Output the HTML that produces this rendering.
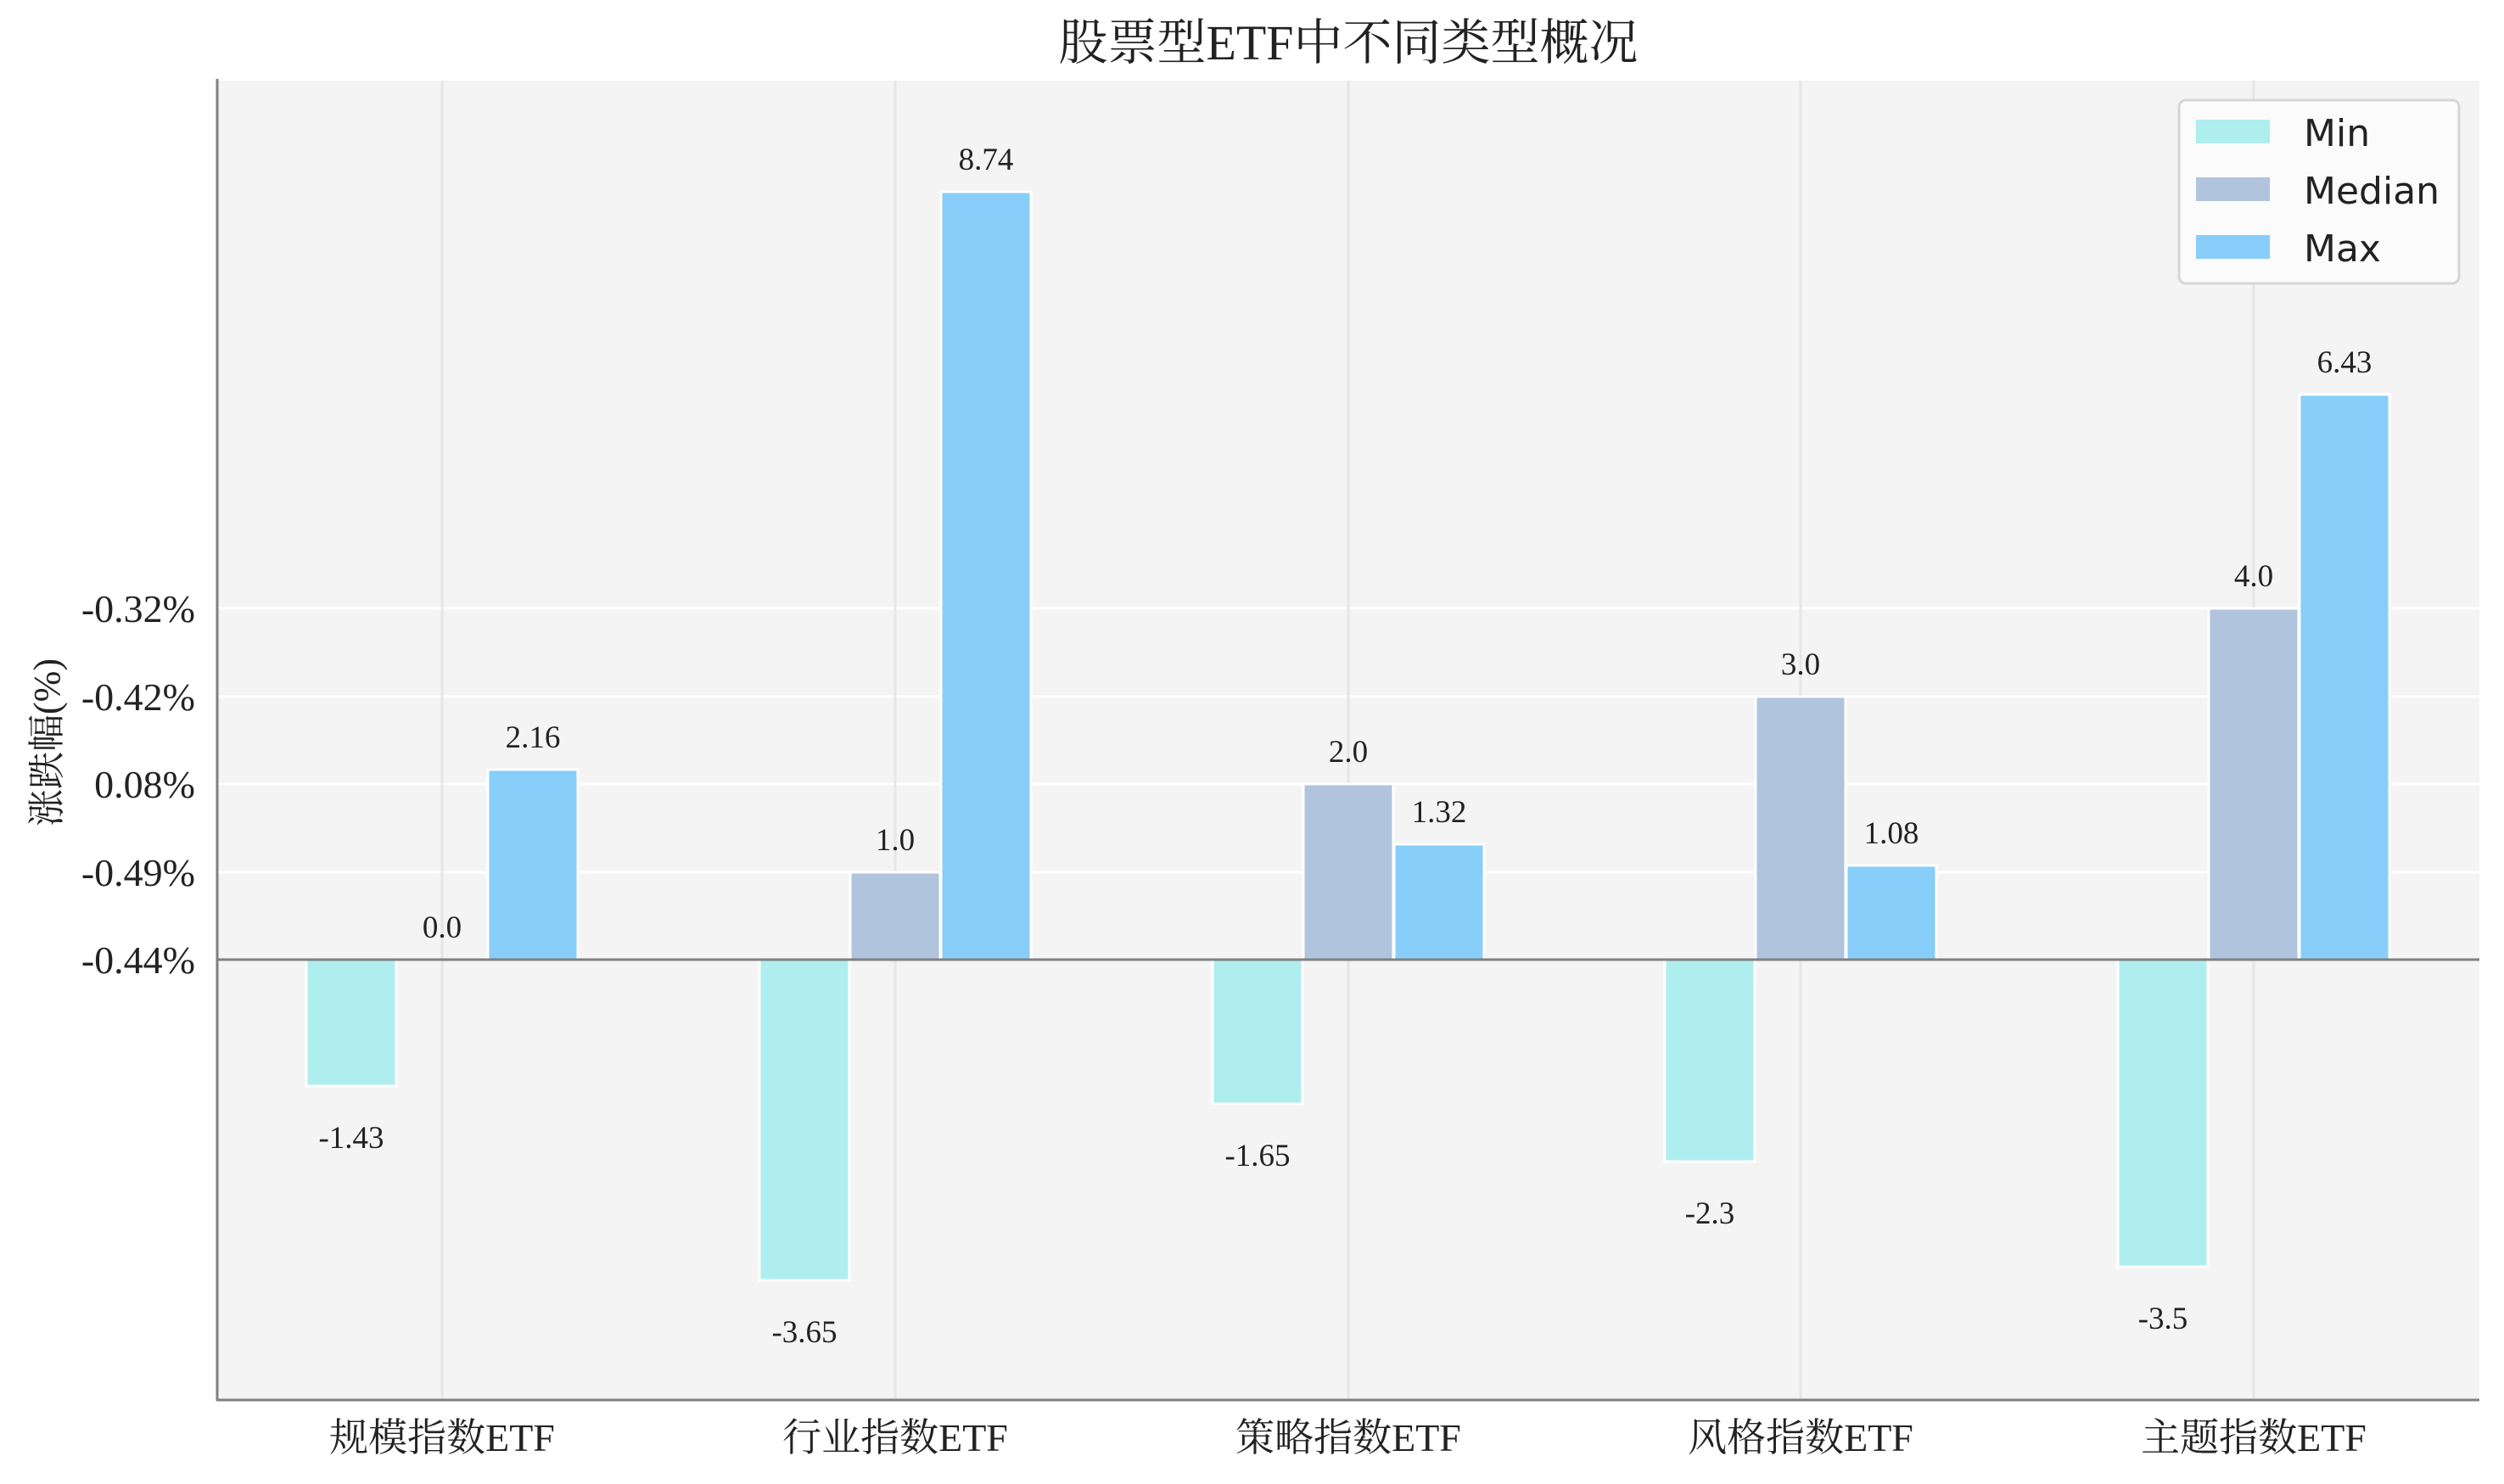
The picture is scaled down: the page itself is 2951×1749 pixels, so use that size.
<!DOCTYPE html>
<html><head><meta charset="utf-8"><style>html,body{margin:0;padding:0;background:#fff}svg{display:block}</style></head>
<body>
<svg width="2951" height="1749" viewBox="0 0 2951 1749" xmlns="http://www.w3.org/2000/svg" font-family="'Liberation Serif','Noto Serif CJK SC',serif">
<rect x="256" y="95" width="2666" height="1555" fill="#f4f4f4"/>
<g stroke="#ffffff" stroke-width="3">
<line x1="256" y1="717" x2="2922" y2="717"/><line x1="256" y1="821" x2="2922" y2="821"/>
<line x1="256" y1="924" x2="2922" y2="924"/><line x1="256" y1="1028" x2="2922" y2="1028"/>
</g>
<g stroke="#e6e6e6" stroke-width="3">
<line x1="521" y1="95" x2="521" y2="1650"/><line x1="1055" y1="95" x2="1055" y2="1650"/>
<line x1="1589" y1="95" x2="1589" y2="1650"/><line x1="2122" y1="95" x2="2122" y2="1650"/>
<line x1="2656" y1="95" x2="2656" y2="1650"/>
</g>
<g stroke="#fff" stroke-width="3">
<rect x="361" y="1131" width="106" height="149" fill="#AFEEEE"/>
<rect x="575" y="907" width="106" height="224" fill="#87CEFA"/>
<rect x="895" y="1131" width="106" height="378" fill="#AFEEEE"/>
<rect x="1002" y="1028" width="106" height="103" fill="#B0C4DE"/>
<rect x="1109" y="226" width="106" height="905" fill="#87CEFA"/>
<rect x="1429" y="1131" width="106" height="170" fill="#AFEEEE"/>
<rect x="1536" y="924" width="106" height="207" fill="#B0C4DE"/>
<rect x="1643" y="995" width="106" height="136" fill="#87CEFA"/>
<rect x="1962" y="1131" width="106" height="238" fill="#AFEEEE"/>
<rect x="2069" y="821" width="106" height="310" fill="#B0C4DE"/>
<rect x="2176" y="1020" width="106" height="111" fill="#87CEFA"/>
<rect x="2496" y="1131" width="106" height="362" fill="#AFEEEE"/>
<rect x="2603" y="717" width="106" height="414" fill="#B0C4DE"/>
<rect x="2710" y="465" width="106" height="666" fill="#87CEFA"/>
</g>
<line x1="256" y1="1131" x2="2922" y2="1131" stroke="#808080" stroke-width="3"/>
<line x1="256" y1="93" x2="256" y2="1651" stroke="#808080" stroke-width="3"/>
<line x1="255" y1="1650" x2="2922" y2="1650" stroke="#808080" stroke-width="3"/>
<g font-size="37" fill="#222" text-anchor="middle">
<text x="414" y="1353">-1.43</text><text x="521" y="1105">0.0</text><text x="628" y="881">2.16</text>
<text x="948" y="1582">-3.65</text><text x="1055" y="1002">1.0</text><text x="1162" y="200">8.74</text>
<text x="1482" y="1374">-1.65</text><text x="1589" y="898">2.0</text><text x="1696" y="969">1.32</text>
<text x="2015" y="1442">-2.3</text><text x="2122" y="795">3.0</text><text x="2229" y="994">1.08</text>
<text x="2549" y="1566">-3.5</text><text x="2656" y="691">4.0</text><text x="2763" y="439">6.43</text>
</g>
<g font-size="46" fill="#222" text-anchor="end">
<text x="230" y="733">-0.32%</text><text x="230" y="837">-0.42%</text><text x="230" y="940">0.08%</text>
<text x="230" y="1044">-0.49%</text><text x="230" y="1147">-0.44%</text>
</g>
<g font-size="46" fill="#222" text-anchor="middle">
<text x="521" y="1710">规模指数ETF</text><text x="1055" y="1710">行业指数ETF</text>
<text x="1589" y="1710">策略指数ETF</text><text x="2122" y="1710">风格指数ETF</text>
<text x="2656" y="1710">主题指数ETF</text>
</g>
<text x="1589" y="70" font-size="58" fill="#222" text-anchor="middle">股票型ETF中不同类型概况</text>
<text transform="translate(70,875) rotate(-90)" font-size="44" fill="#222" text-anchor="middle">涨跌幅(%)</text>
<rect x="2568" y="118" width="330" height="216" rx="8" fill="#fbfbfb" stroke="#d6d6d6" stroke-width="3"/>
<rect x="2588" y="141" width="87" height="28" fill="#AFEEEE"/>
<rect x="2588" y="209" width="87" height="28" fill="#B0C4DE"/>
<rect x="2588" y="277" width="87" height="28" fill="#87CEFA"/>
<g font-family="'DejaVu Sans',sans-serif" font-size="44" fill="#222">
<text x="2715" y="172">Min</text><text x="2715" y="240">Median</text><text x="2715" y="308">Max</text>
</g>
</svg>
</body></html>
